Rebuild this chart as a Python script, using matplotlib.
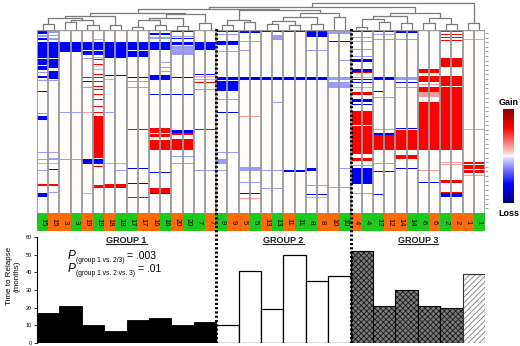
import numpy as np
import matplotlib
matplotlib.use("Agg")
import matplotlib.pyplot as plt
from matplotlib.colors import LinearSegmentedColormap, Normalize
from matplotlib.cm import ScalarMappable
from matplotlib.lines import Line2D
from matplotlib.transforms import IdentityTransform

plt.rcParams['font.family'] = ['Liberation Sans', 'DejaVu Sans']
plt.rcParams['hatch.linewidth'] = 0.6

# ---------------- data ----------------
# column labels (patient id) and sample colour code (G = green, O = orange)
col_patients = [15, 15, 3, 3, 19, 19, 18, 18, 17, 17, 16, 16, 20, 20, 7, 7,
                9, 9, 5, 5, 13, 13, 11, 11, 8, 8, 10, 10,
                4, 4, 12, 12, 14, 14, 6, 6, 2, 2, 1, 1]
col_codes = ['G', 'O', 'O', 'G', 'O', 'G', 'O', 'G', 'G', 'O', 'O', 'G', 'O', 'G', 'G', 'O',
             'G', 'O', 'O', 'G', 'O', 'G', 'O', 'G', 'G', 'O', 'O', 'G',
             'O', 'G', 'G', 'O', 'O', 'G', 'G', 'O', 'G', 'O', 'O', 'G']

# patients (bar order), cluster group, time to relapse (months)
patients = [15, 3, 19, 18, 17, 16, 20, 7, 9, 5, 13, 11, 8, 10, 4, 12, 14, 6, 2, 1]
groups = [1, 1, 1, 1, 1, 1, 1, 1, 2, 2, 2, 2, 2, 2, 3, 3, 3, 3, 3, 3]
relapse = [17, 21, 10, 7, 13, 14, 10, 12, 10, 41, 19, 50, 35, 38, 52, 21, 30, 21, 20, 39]
bar_kind = ['solid'] * 8 + ['open'] * 6 + ['hatch'] * 5 + ['light']

# p-values annotation
p_subscripts = ['(group 1 vs. 2/3)', '(group 1 vs. 2 vs. 3)']
p_values = ['= .003', '= .01']

# copy-number events: (first col, last col, first bin, last bin, level)
N_BINS = 183
B, LB, R, LR = -0.6, -0.2, 0.6, 0.2
events = [
    # group 1
    (1, 1, 2, 4, B), (1, 1, 6, 7, LB), (1, 1, 9, 10, B), (1, 2, 13, 28, B), (1, 1, 30, 35, B),
    (1, 1, 37, 40, B), (1, 1, 43, 43, LB), (1, 1, 47, 48, B), (1, 2, 51, 51, LB), (1, 1, 62, 62, B),
    (1, 1, 84, 84, LB), (1, 1, 87, 90, B), (1, 1, 122, 122, LB), (1, 2, 133, 133, LR),
    (1, 1, 140, 140, LB), (1, 2, 154, 155, R), (1, 1, 163, 166, B),
    (2, 2, 2, 3, LB), (2, 2, 6, 6, LB), (2, 2, 9, 10, LB), (2, 2, 30, 38, B), (2, 2, 42, 49, B),
    (2, 2, 122, 122, LB), (2, 2, 128, 128, LB), (2, 2, 139, 139, B), (2, 2, 162, 162, LB),
    (3, 4, 13, 22, B), (3, 4, 83, 83, LB), (1, 4, 129, 129, LB),
    (5, 6, 13, 20, B), (5, 6, 22, 25, B), (5, 5, 29, 29, LB), (5, 5, 48, 48, R), (5, 5, 52, 52, B),
    (5, 5, 58, 58, LB), (5, 5, 83, 83, LR), (5, 6, 129, 133, B), (5, 5, 163, 163, LR),
    (6, 6, 10, 10, LR), (6, 6, 28, 28, LR), (6, 6, 30, 30, R), (6, 6, 35, 35, R), (6, 6, 40, 40, LR),
    (6, 6, 45, 45, R), (6, 6, 48, 48, R), (6, 6, 52, 52, R), (6, 6, 57, 57, R), (6, 6, 60, 60, R),
    (6, 6, 65, 65, R), (6, 6, 70, 70, R), (6, 6, 77, 77, R), (6, 6, 83, 83, R), (6, 6, 87, 127, R),
    (6, 6, 136, 136, R), (6, 6, 155, 157, R),
    (7, 8, 13, 28, B), (7, 8, 46, 46, B), (7, 7, 50, 50, LR), (7, 7, 83, 83, LB), (7, 8, 133, 133, LR),
    (8, 8, 140, 140, LB), (7, 8, 154, 157, R),
    (9, 10, 13, 20, B), (9, 10, 22, 27, B), (9, 10, 48, 48, B), (9, 10, 52, 52, LB), (9, 10, 58, 58, LB),
    (9, 10, 99, 99, R), (9, 10, 138, 138, B), (9, 10, 153, 153, B), (9, 10, 167, 167, R),
    (11, 12, 4, 5, B), (11, 12, 8, 9, LB), (11, 12, 13, 20, B), (12, 12, 33, 33, LB), (12, 12, 38, 38, LB),
    (12, 12, 42, 42, LB), (11, 12, 46, 50, B), (11, 14, 65, 65, B), (11, 12, 98, 102, R),
    (11, 12, 104, 106, R), (11, 12, 110, 119, R), (11, 12, 142, 142, B), (11, 12, 158, 162, R),
    (11, 12, 163, 163, B),
    (13, 14, 2, 2, B), (13, 14, 7, 7, LB), (13, 14, 9, 9, B), (13, 14, 13, 15, B), (13, 14, 17, 25, LB),
    (13, 14, 48, 48, B), (13, 14, 100, 102, B), (13, 14, 103, 104, R), (13, 14, 109, 119, R),
    (13, 14, 126, 126, LB), (13, 14, 133, 133, LB),
    (15, 16, 13, 20, B), (15, 16, 45, 45, B), (15, 16, 47, 47, LR), (15, 16, 50, 50, LR),
    (15, 16, 53, 53, R), (15, 16, 60, 60, LB), (15, 16, 99, 99, R), (15, 17, 140, 140, LB),
    # group 2
    (17, 18, 0, 2, B), (17, 18, 5, 5, LB), (17, 18, 12, 15, B), (17, 18, 22, 22, LB), (17, 26, 48, 50, B),
    (17, 18, 52, 61, B), (17, 18, 70, 70, LB), (17, 18, 83, 83, B), (17, 18, 122, 122, LB),
    (17, 17, 129, 133, LB),
    (19, 20, 0, 3, B), (19, 20, 12, 12, LB), (19, 19, 21, 21, LB), (19, 20, 87, 87, LR),
    (19, 20, 137, 140, LB), (19, 20, 152, 152, LB), (19, 20, 163, 163, B), (19, 20, 168, 168, LR),
    (21, 22, 0, 2, B), (22, 22, 6, 10, LB), (22, 22, 73, 73, LB), (21, 23, 140, 140, LB),
    (21, 22, 158, 158, LB),
    (23, 24, 0, 2, B), (23, 24, 140, 141, B),
    (25, 26, 2, 7, B), (25, 26, 21, 21, LB), (25, 25, 138, 140, B), (25, 26, 155, 155, LB),
    (25, 26, 164, 164, B), (25, 26, 167, 167, LR),
    (27, 28, 2, 4, LB), (27, 28, 12, 12, B), (28, 28, 31, 31, LB), (27, 28, 48, 50, LB),
    (27, 28, 53, 58, LB), (27, 28, 157, 157, LB), (28, 28, 138, 138, LB),
    # group 3
    (29, 30, 2, 2, B), (29, 30, 8, 8, LB), (29, 30, 12, 12, LB), (29, 30, 20, 20, LB), (29, 30, 27, 27, LB),
    (29, 30, 30, 32, B), (29, 30, 40, 42, B), (29, 30, 43, 43, R), (29, 30, 48, 48, LR), (29, 30, 50, 50, B),
    (29, 30, 53, 53, B), (29, 30, 58, 58, LR), (29, 30, 63, 65, R), (29, 30, 70, 72, B), (29, 30, 75, 75, B),
    (29, 30, 82, 94, R), (29, 30, 96, 119, R), (29, 30, 120, 123, R), (29, 30, 128, 130, R),
    (29, 30, 135, 135, LB), (29, 30, 138, 153, B), (29, 30, 163, 163, LB),
    (31, 32, 0, 2, B), (31, 32, 5, 5, LB), (31, 32, 10, 10, LB), (31, 32, 48, 50, B), (31, 31, 62, 62, B),
    (31, 32, 68, 68, LB), (31, 32, 99, 99, LB), (31, 32, 103, 104, B), (31, 32, 105, 119, R),
    (31, 32, 133, 133, LB), (31, 32, 141, 141, B), (31, 31, 164, 164, B),
    (33, 34, 0, 3, B), (33, 34, 10, 10, LB), (33, 34, 48, 50, LB), (33, 34, 53, 53, B), (33, 34, 58, 58, LB),
    (33, 34, 98, 98, B), (33, 34, 100, 119, R), (33, 34, 125, 128, R), (33, 34, 138, 138, B),
    (35, 36, 40, 43, R), (35, 36, 47, 52, R), (35, 36, 55, 55, LR), (35, 36, 58, 62, R),
    (35, 36, 63, 67, LR), (35, 36, 73, 119, R), (35, 36, 140, 140, LR), (35, 36, 152, 152, B),
    (37, 38, 2, 2, R), (37, 38, 5, 5, R), (37, 38, 8, 8, R), (37, 38, 11, 11, R), (37, 38, 29, 37, R),
    (37, 38, 47, 56, R), (37, 38, 58, 62, R), (37, 38, 63, 119, R), (37, 38, 132, 132, LR),
    (37, 38, 134, 134, LR), (37, 38, 150, 152, R), (37, 38, 162, 162, R), (37, 38, 163, 166, B),
    (39, 40, 10, 10, LR), (39, 40, 99, 99, LR), (39, 40, 132, 133, R), (39, 40, 135, 138, R),
    (39, 40, 140, 142, R), (39, 40, 145, 145, LR),
]

# chromosome-arm tick positions (bins) on the right edge of the heatmap
arm_ticks = [3, 8, 12, 17, 21, 26, 31, 35, 40, 44, 49, 54, 58, 63, 68, 72, 77, 81, 86, 91,
             95, 100, 104, 109, 114, 118, 123, 128, 132, 137, 141, 146, 151, 155, 160, 165,
             169, 174, 178]

# hierarchical clustering tree: [left, right, height]; ints are columns
tree_g1 = [[[[1, 2, 6], [[3, 4, 8], [5, 6, 5], 10], 12], [7, 8, 5], 14],
           [[[[9, 10, 3], [11, 12, 5], 10], [13, 14, 4], 12], [15, 16, 7], 16], 17]
tree_g2 = [[[17, 18, 5], [19, 20, 8], 10],
           [[[[21, 22, 6], [23, 24, 5], 9], [25, 26, 6], 13], [27, 28, 13], 17], 20]
tree_g3 = [[[[29, 30, 3], [31, 32, 8], 11], [33, 34, 7], 14],
           [[35, 36, 7], [37, 38, 6], 12], 17]
dendro = [[[tree_g1, tree_g2, 21], tree_g3, 23], [39, 40, 7], 27]

# ---------------- figure ----------------
W, H = 520, 346
DPI = 100
fig = plt.figure(figsize=(W / DPI, H / DPI), dpi=DPI)


def add_ax(x0, y0, x1, y1):
    return fig.add_axes([x0 / W, 1 - y1 / H, (x1 - x0) / W, (y1 - y0) / H])


n_cols = len(col_patients)
cmap = LinearSegmentedColormap.from_list('gl', [
    (0.0, (0.0, 0.0, 0.45)), (0.2, (0.0, 0.0, 1.0)), (0.47, (0.82, 0.82, 1.0)),
    (0.5, (1, 1, 1)), (0.53, (1.0, 0.82, 0.82)), (0.8, (1.0, 0.0, 0.0)), (1.0, (0.55, 0.0, 0.0))])
norm = Normalize(-1, 1)

# heatmap
M = np.zeros((N_BINS, n_cols))
for c0, c1, r0, r1, v in events:
    M[r0:r1 + 1, c0 - 1:c1] = v
axh = add_ax(37, 30, 485, 213)
axh.imshow(M, cmap=cmap, norm=norm, aspect='auto', interpolation='nearest',
           extent=(0, n_cols, N_BINS, 0))
axh.vlines(np.arange(n_cols + 1), 0, N_BINS, color='#999999', lw=1.3)
axh.hlines(0, 0, n_cols, color='#999999', lw=1.0)
axh.set_xlim(0, n_cols)
axh.set_ylim(N_BINS, 0)
for s in axh.spines.values():
    s.set_visible(False)
axh.set_xticks([])
axh.yaxis.tick_right()
axh.set_yticks(arm_ticks)
axh.set_yticklabels([])
axh.tick_params(axis='y', length=2, width=0.6, color='#888888', direction='out')

# dendrogram
axd = add_ax(37, 2, 485, 30)


def draw(node):
    if isinstance(node, int):
        return node - 0.5, 0
    l, r, h = node
    xl, hl = draw(l)
    xr, hr = draw(r)
    axd.plot([xl, xl, xr, xr], [hl, h, h, hr], color='#7a7a7a', lw=0.9, solid_capstyle='butt')
    return (xl + xr) / 2, h


draw(dendro)
axd.set_xlim(0, n_cols)
axd.set_ylim(0, 28)
axd.axis('off')

# label row
code_color = {'G': '#1ec81e', 'O': '#ff6a0a'}
axl = add_ax(37, 213, 485, 231)
axl.bar(np.arange(n_cols) + 0.5, 1, width=1, color=[code_color[c] for c in col_codes], lw=0)
for i, p in enumerate(col_patients):
    axl.text(i + 0.5, 0.5, str(p), rotation=270, ha='center', va='center', fontsize=5.5,
             color='black')
axl.set_xlim(0, n_cols)
axl.set_ylim(0, 1)
axl.axis('off')

# bar chart
axb = add_ax(37, 237, 485, 343)
xs = np.arange(len(patients)) * 2 + 1
for x, v, k in zip(xs, relapse, bar_kind):
    if k == 'solid':
        axb.bar(x, v, width=2, color='black', edgecolor='black', lw=0.6)
    elif k == 'open':
        axb.bar(x, v, width=2, color='white', edgecolor='black', lw=0.9)
    elif k == 'hatch':
        axb.bar(x, v, width=2, color='#7a7a7a', edgecolor='#1a1a1a', hatch='xxxxxx', lw=0.6)
        axb.bar(x, v, width=2, fill=False, edgecolor='black', lw=0.8)
    else:
        axb.bar(x, v, width=2, color='white', edgecolor='#7a7a7a', hatch='//////', lw=0.6)
        axb.bar(x, v, width=2, fill=False, edgecolor='#333333', lw=0.8)
axb.set_xlim(0, n_cols)
axb.set_ylim(0, 60)
axb.set_yticks(range(0, 61, 10))
axb.tick_params(axis='y', labelsize=4, length=2, width=0.6, pad=1.5)
axb.set_xticks([])
for s in ['top', 'right', 'bottom']:
    axb.spines[s].set_visible(False)
axb.spines['left'].set_linewidth(0.8)
axb.set_ylabel('Time to Relapse\n(months)', fontsize=5.8, linespacing=1.15)
axb.yaxis.set_label_coords(-0.036, 0.63)

group_ids = sorted(set(groups))
group_texts = []
start = 0
for g in group_ids:
    n = 2 * groups.count(g)
    t = axb.text(start + n / 2, 58.3, f'GROUP {g}', ha='center', va='center', fontsize=6.5,
                 fontweight='bold', color='#222222')
    group_texts.append(t)
    start += n

# colour bar
axc = add_ax(503, 109, 514, 203)
cb = fig.colorbar(ScalarMappable(norm=norm, cmap=cmap), cax=axc)
cb.set_ticks([])
cb.outline.set_visible(False)
fig.text(508.5 / W, 1 - 103 / H, 'Gain', ha='center', va='center', fontsize=6.5, fontweight='bold')
fig.text(508.5 / W, 1 - 213 / H, 'Loss', ha='center', va='center', fontsize=6.5, fontweight='bold')

# p-value lines: italic P, small lowered subscript, then value
fig.canvas.draw()
rend = fig.canvas.get_renderer()
px2pt = 72.0 / DPI
for k, (sub, val) in enumerate(zip(p_subscripts, p_values)):
    y = 47.7 - 7.4 * k
    tp = axb.text(2.7, y, 'P', fontsize=8.5, style='italic', ha='left', va='baseline')
    wp = tp.get_window_extent(rend).width
    ts = axb.annotate(sub, xy=(2.7, y), xycoords='data', xytext=(wp * px2pt + 0.6, -2.0),
                      textcoords='offset points', fontsize=4.8, ha='left', va='baseline')
    ws = ts.get_window_extent(rend).width
    axb.annotate(val, xy=(2.7, y), xycoords='data',
                 xytext=(wp * px2pt + 0.6 + ws * px2pt + 2.0, 0),
                 textcoords='offset points', fontsize=7.5, ha='left', va='baseline')

# group separators (dotted)
axo = add_ax(37, 28, 485, 343)
axo.set_xlim(0, n_cols)
axo.set_ylim(0, 1)
axo.axis('off')
axo.patch.set_alpha(0)
bound = 0
for g in group_ids[:-1]:
    bound += 2 * groups.count(g)
    axo.axvline(bound, color='black', lw=2.2, linestyle=(0, (0.7, 0.7)))

# underline group titles
fig.canvas.draw()
for t in group_texts:
    bb = t.get_window_extent(rend)
    fig.add_artist(Line2D([bb.x0, bb.x1], [bb.y0 + 0.5, bb.y0 + 0.5], transform=IdentityTransform(),
                          color='#222222', lw=0.8))

fig.savefig('out.png', dpi=DPI)
